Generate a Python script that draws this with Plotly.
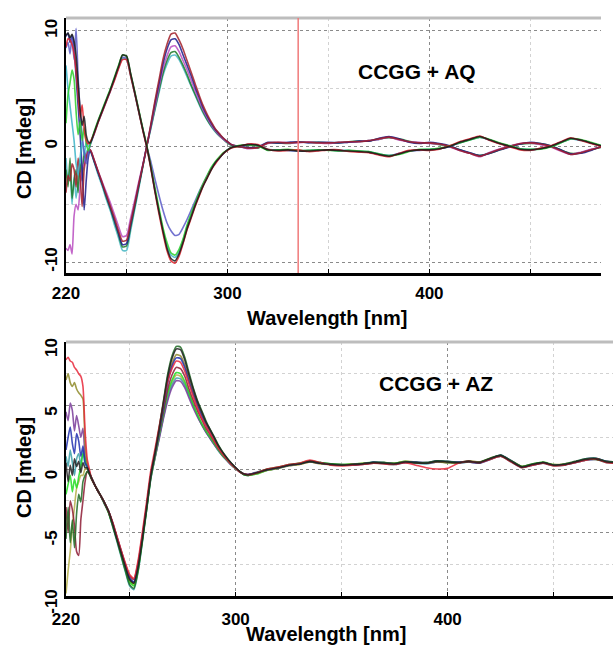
import plotly.graph_objects as go

# wavelength grid (nm): 1 nm in the noisy start, 2 nm over the bands, 5 nm in the flat tail
wl = [220, 221, 222, 223, 224, 225, 226, 227, 228, 229, 230, 231, 232,
      234, 236, 238, 240, 242, 244, 246, 248, 250, 252, 254, 256, 258, 260,
      262, 264, 266, 268, 270, 272, 274, 276, 278, 280, 282, 284, 286, 288,
      290, 292, 294, 296, 298, 300, 302, 304, 306,
      310, 315, 320, 325, 330, 335, 340, 345, 350, 355, 360, 365, 370, 375,
      380, 385, 390, 395, 400, 405, 410, 415, 420, 425, 430, 435, 440, 445,
      450, 455, 460, 465, 470, 475, 480, 485]

# ---- CCGG + AQ (top panel) ----
aq_black = [9.6, 9.8, 9.4, 9.7, 9.1, 7.8, 5.5, 3.2, 1.8, 2.6, 1.0, 0.4, 0.3,
            1.2, 2.2, 3.1, 4.0, 4.9, 5.9, 6.9, 7.9, 7.8, 6.3, 4.7, 3.1, 1.5, 0.0,
            -1.8, -3.8, -5.6, -7.3, -8.8, -9.7, -9.9, -9.3, -8.3, -7.1, -6.1, -5.1, -4.2, -3.4,
            -2.7, -2.0, -1.4, -1.0, -0.6, -0.3, -0.1, 0.0, 0.05,
            0.15, 0.1, -0.3, -0.35, -0.3, -0.4, -0.4, -0.35, -0.3, -0.35, -0.4, -0.45, -0.5, -0.7,
            -0.85, -0.65, -0.4, -0.3, -0.3, -0.2, 0.0, 0.35, 0.6, 0.85, 0.55, 0.25, 0.0, -0.25,
            -0.3, -0.2, 0.0, 0.35, 0.7, 0.55, 0.3, 0.05]
aq_red = [8.6, 9.3, 9.2, 8.8, 8.0, 6.5, 4.5, 2.5, 3.6, 1.5, 0.5, 0.2, 0.4,
          1.1, 2.1, 3.0, 3.9, 4.8, 5.7, 6.7, 7.5, 7.5, 6.1, 4.6, 3.0, 1.4, -0.1,
          -1.9, -3.9, -5.8, -7.5, -9.0, -9.9, -10.1, -9.5, -8.4, -7.2, -6.2, -5.2, -4.3, -3.4,
          -2.7, -2.0, -1.5, -1.0, -0.6, -0.35, -0.15, -0.05, 0.0,
          0.2, 0.15, -0.25, -0.4, -0.35, -0.3, -0.45, -0.4, -0.3, -0.3, -0.45, -0.5, -0.55, -0.75,
          -0.9, -0.6, -0.35, -0.3, -0.35, -0.25, 0.05, 0.4, 0.65, 0.9, 0.5, 0.2, -0.05, -0.3,
          -0.35, -0.15, 0.05, 0.4, 0.75, 0.5, 0.25, 0.0]
aq_green = [2.0, 4.5, 5.5, 6.6, 5.8, 3.0, 1.0, 2.2, 0.5, 1.6, 0.3, -0.4, 0.2,
            1.3, 2.3, 3.2, 4.1, 5.0, 6.0, 7.0, 7.9, 7.8, 6.3, 4.8, 3.2, 1.6, 0.1,
            -1.7, -3.5, -5.3, -7.0, -8.3, -9.2, -9.4, -8.9, -8.0, -6.8, -5.8, -4.9, -4.0, -3.2,
            -2.5, -1.8, -1.3, -0.9, -0.55, -0.3, -0.1, 0.0, 0.1,
            0.1, 0.05, -0.35, -0.3, -0.25, -0.35, -0.35, -0.3, -0.35, -0.4, -0.35, -0.4, -0.45, -0.65,
            -0.8, -0.7, -0.45, -0.25, -0.25, -0.15, 0.05, 0.3, 0.55, 0.8, 0.6, 0.3, 0.05, -0.2,
            -0.25, -0.25, -0.05, 0.3, 0.65, 0.6, 0.35, 0.1]
aq_slate = [8.5, 9.0, 8.0, 9.5, 7.5, 10.2, 6.0, 3.0, 1.0, -0.5, -1.5, -0.6, 0.1,
            1.1, 2.1, 3.0, 3.9, 4.8, 5.8, 6.8, 7.7, 7.6, 6.2, 4.7, 3.1, 1.5, 0.0,
            -1.3, -2.8, -4.2, -5.5, -6.6, -7.3, -7.7, -7.6, -7.0, -6.3, -5.5, -4.7, -3.9, -3.2,
            -2.5, -1.9, -1.4, -1.0, -0.6, -0.3, -0.1, 0.0, 0.05,
            0.15, 0.1, -0.3, -0.3, -0.35, -0.4, -0.35, -0.3, -0.3, -0.4, -0.4, -0.4, -0.5, -0.7,
            -0.8, -0.6, -0.4, -0.35, -0.3, -0.2, 0.0, 0.3, 0.6, 0.8, 0.55, 0.25, 0.0, -0.2,
            -0.3, -0.2, 0.0, 0.35, 0.65, 0.55, 0.3, 0.05]
aq_cyan = [7.0, 5.0, 3.5, 2.0, 0.5, -1.5, -2.5, -1.0, 0.5, -0.8, 0.4, 0.0, 0.2,
           1.2, 2.2, 3.1, 4.0, 4.9, 5.8, 6.8, 7.6, 7.5, 6.1, 4.6, 3.0, 1.5, 0.0,
           -1.8, -3.7, -5.5, -7.2, -8.6, -9.4, -9.6, -9.1, -8.1, -6.9, -5.9, -5.0, -4.1, -3.3,
           -2.6, -1.9, -1.4, -0.95, -0.6, -0.3, -0.1, 0.0, 0.05,
           0.1, 0.1, -0.25, -0.3, -0.35, -0.35, -0.4, -0.3, -0.3, -0.35, -0.35, -0.45, -0.45, -0.65,
           -0.8, -0.65, -0.4, -0.3, -0.25, -0.2, 0.0, 0.3, 0.55, 0.8, 0.55, 0.25, 0.0, -0.2,
           -0.25, -0.2, 0.0, 0.3, 0.65, 0.5, 0.3, 0.05]
aq_darkred = [-4.0, -2.5, -3.0, -1.5, -2.0, -3.5, -1.0, -2.5, -5.2, -2.0, -1.0, -0.4, -0.3,
              -1.2, -2.2, -3.2, -4.2, -5.2, -6.2, -7.3, -8.2, -8.1, -6.6, -5.0, -3.3, -1.7, 0.0,
              1.9, 3.9, 5.7, 7.5, 8.8, 9.7, 9.8, 9.2, 8.4, 7.4, 6.4, 5.4, 4.4, 3.5,
              2.75, 2.1, 1.5, 1.1, 0.7, 0.4, 0.15, 0.05, 0.0,
              -0.15, -0.1, 0.3, 0.35, 0.3, 0.35, 0.35, 0.3, 0.3, 0.35, 0.4, 0.4, 0.5, 0.65,
              0.8, 0.6, 0.4, 0.3, 0.3, 0.2, 0.0, -0.35, -0.6, -0.85, -0.55, -0.25, 0.0, 0.25,
              0.3, 0.2, 0.0, -0.35, -0.7, -0.55, -0.3, -0.05]
aq_navy = [9.5, 9.8, 9.0, 9.6, 8.5, 6.0, 3.5, 1.0, -2.0, -5.5, -3.0, -1.0, -0.4,
           -1.3, -2.3, -3.3, -4.3, -5.3, -6.4, -7.5, -8.5, -8.4, -6.8, -5.1, -3.4, -1.7, 0.0,
           1.8, 3.7, 5.4, 7.1, 8.4, 9.2, 9.3, 8.8, 7.9, 7.0, 6.1, 5.1, 4.2, 3.3,
           2.6, 2.0, 1.45, 1.05, 0.7, 0.4, 0.15, 0.05, 0.0,
           -0.1, -0.05, 0.35, 0.3, 0.35, 0.4, 0.3, 0.35, 0.35, 0.3, 0.35, 0.45, 0.45, 0.7,
           0.85, 0.65, 0.35, 0.25, 0.35, 0.25, 0.05, -0.3, -0.55, -0.8, -0.6, -0.3, -0.05, 0.2,
           0.35, 0.25, 0.05, -0.3, -0.65, -0.6, -0.35, 0.0]
aq_magenta = [-8.8, -9.0, -8.5, -9.3, -6.0, -5.0, -5.5, -3.5, -2.0, -1.5, -0.8, -0.4, -0.3,
              -1.2, -2.2, -3.1, -4.0, -4.9, -5.9, -6.9, -7.8, -7.7, -6.2, -4.7, -3.1, -1.6, 0.0,
              1.7, 3.4, 5.1, 6.7, 7.8, 8.6, 8.7, 8.2, 7.4, 6.6, 5.7, 4.8, 3.9, 3.1,
              2.45, 1.85, 1.35, 0.95, 0.6, 0.35, 0.15, 0.05, 0.0,
              -0.2, -0.1, 0.25, 0.35, 0.3, 0.3, 0.4, 0.3, 0.25, 0.35, 0.35, 0.4, 0.5, 0.6,
              0.8, 0.55, 0.4, 0.35, 0.25, 0.2, -0.05, -0.35, -0.6, -0.9, -0.5, -0.2, 0.05, 0.25,
              0.3, 0.15, -0.05, -0.4, -0.7, -0.5, -0.25, -0.05]
aq_darkgreen = [-2.0, -3.5, -1.0, -4.5, -3.0, -2.0, -4.0, -1.5, -3.0, -0.5, -1.2, -0.5, -0.3,
                -1.3, -2.3, -3.3, -4.4, -5.4, -6.5, -7.6, -8.7, -8.6, -7.0, -5.3, -3.5, -1.8, 0.0,
                1.6, 3.2, 4.8, 6.3, 7.4, 8.1, 8.2, 7.7, 7.0, 6.2, 5.3, 4.5, 3.7, 2.95,
                2.3, 1.75, 1.3, 0.9, 0.6, 0.3, 0.1, 0.0, -0.05,
                -0.1, -0.15, 0.3, 0.3, 0.25, 0.35, 0.35, 0.35, 0.3, 0.3, 0.4, 0.45, 0.45, 0.65,
                0.75, 0.65, 0.45, 0.3, 0.3, 0.15, 0.0, -0.3, -0.6, -0.8, -0.6, -0.3, 0.0, 0.2,
                0.25, 0.25, 0.05, -0.3, -0.6, -0.55, -0.3, -0.1]
aq_teal = [-1.0, -3.0, -2.0, -5.0, -2.5, -4.5, -3.0, -1.0, -2.2, -1.2, -0.5, -0.3, -0.4,
           -1.4, -2.5, -3.5, -4.6, -5.6, -6.8, -7.9, -9.0, -9.0, -7.3, -5.5, -3.7, -1.8, 0.0,
           1.5, 3.1, 4.6, 6.1, 7.1, 7.8, 7.9, 7.5, 6.8, 6.0, 5.2, 4.4, 3.6, 2.85,
           2.25, 1.7, 1.25, 0.9, 0.6, 0.3, 0.1, 0.0, -0.05,
           -0.15, -0.1, 0.3, 0.3, 0.3, 0.35, 0.35, 0.3, 0.3, 0.35, 0.35, 0.4, 0.5, 0.6,
           0.8, 0.6, 0.4, 0.3, 0.3, 0.2, 0.0, -0.3, -0.55, -0.8, -0.55, -0.25, 0.0, 0.2,
           0.3, 0.2, 0.0, -0.3, -0.65, -0.55, -0.3, -0.05]

# ---- CCGG + AZ (bottom panel) ----
az_red = [8.6, 8.8, 8.5, 8.4, 8.0, 7.8, 7.5, 7.3, 6.5, 3.0, 0.8, 0.0, -0.7,
          -1.4, -2.0, -2.6, -3.3, -4.2, -5.3, -6.4, -7.4, -8.3, -8.6, -7.2, -5.0, -2.6, -0.1,
          1.6, 3.4, 5.2, 6.9, 7.9, 8.5, 8.4, 7.7, 6.7, 5.7, 4.8, 4.0, 3.4, 2.8,
          2.2, 1.6, 1.15, 0.75, 0.35, 0.05, -0.25, -0.4, -0.45,
          -0.3, 0.0, 0.15, 0.35, 0.45, 0.7, 0.5, 0.3, 0.25, 0.3, 0.35, 0.45, 0.4, 0.35,
          0.5, 0.3, 0.1, 0.0, 0.05, 0.45, 0.6, 0.5, 0.75, 1.0, 0.55, 0.1, 0.3, 0.45,
          0.25, 0.3, 0.5, 0.7, 0.8, 0.5, 0.45, 0.45]
az_olive = [7.0, 7.5, 6.8, 6.5, 6.8, 6.3, 6.0, 5.8, 5.5, 2.0, 0.4, -0.2, -0.7,
            -1.4, -2.0, -2.6, -3.3, -4.3, -5.5, -6.6, -7.7, -8.7, -9.0, -7.7, -5.5, -3.0, -0.5,
            1.2, 3.0, 5.0, 7.0, 8.3, 9.0, 8.9, 8.2, 7.1, 6.0, 5.1, 4.3, 3.6, 3.0,
            2.35, 1.75, 1.25, 0.8, 0.4, 0.1, -0.2, -0.4, -0.45,
            -0.35, -0.1, 0.05, 0.25, 0.35, 0.55, 0.4, 0.35, 0.3, 0.4, 0.45, 0.5, 0.5, 0.45,
            0.6, 0.55, 0.5, 0.6, 0.5, 0.5, 0.65, 0.55, 0.85, 1.05, 0.65, 0.2, 0.35, 0.5,
            0.35, 0.4, 0.55, 0.75, 0.75, 0.55, 0.5, 0.5]
az_purple = [4.5, 3.8, 5.2, 4.6, 3.0, 4.2, 3.4, 2.5, 3.2, 1.0, 0.3, -0.2, -0.7,
             -1.4, -2.0, -2.6, -3.3, -4.3, -5.4, -6.5, -7.6, -8.6, -8.9, -7.6, -5.4, -3.1, -0.7,
             0.9, 2.4, 4.0, 5.4, 6.4, 6.95, 6.9, 6.4, 5.6, 4.8, 4.1, 3.5, 2.9, 2.4,
             1.9, 1.45, 1.0, 0.65, 0.3, 0.05, -0.2, -0.4, -0.4,
             -0.3, -0.05, 0.1, 0.3, 0.4, 0.55, 0.45, 0.4, 0.35, 0.3, 0.35, 0.45, 0.45, 0.4,
             0.5, 0.5, 0.45, 0.55, 0.55, 0.5, 0.55, 0.45, 0.75, 1.0, 0.6, 0.15, 0.3, 0.45,
             0.3, 0.35, 0.5, 0.7, 0.75, 0.6, 0.55, 0.5]
az_blue = [1.5, 2.5, 3.3, 2.0, 1.2, 2.8, 2.2, 1.0, 1.8, 0.5, 0.2, -0.3, -0.7,
           -1.4, -2.0, -2.6, -3.3, -4.3, -5.4, -6.5, -7.6, -8.6, -8.9, -7.6, -5.4, -3.0, -0.5,
           1.2, 3.0, 4.9, 6.8, 8.1, 8.75, 8.7, 8.0, 6.9, 5.9, 5.0, 4.2, 3.5, 2.9,
           2.3, 1.7, 1.2, 0.8, 0.4, 0.1, -0.2, -0.4, -0.45,
           -0.25, -0.05, 0.1, 0.3, 0.4, 0.6, 0.45, 0.35, 0.3, 0.35, 0.4, 0.55, 0.5, 0.4,
           0.55, 0.55, 0.5, 0.65, 0.6, 0.55, 0.6, 0.5, 0.8, 1.1, 0.65, 0.15, 0.35, 0.5,
           0.3, 0.35, 0.55, 0.8, 0.85, 0.6, 0.5, 0.55]
az_teal = [1.0, 0.2, 1.5, 0.5, -0.5, 0.8, 1.2, 0.3, 1.5, 0.4, 0.1, -0.3, -0.7,
           -1.4, -2.0, -2.7, -3.4, -4.5, -5.7, -6.9, -8.1, -9.2, -9.5, -8.1, -5.8, -3.3, -0.8,
           0.9, 2.5, 4.1, 5.6, 6.6, 7.15, 7.1, 6.6, 5.8, 5.0, 4.2, 3.5, 2.9, 2.4,
           1.9, 1.4, 1.0, 0.65, 0.3, 0.0, -0.25, -0.45, -0.5,
           -0.35, -0.1, 0.05, 0.25, 0.4, 0.6, 0.5, 0.35, 0.3, 0.3, 0.4, 0.5, 0.4, 0.35,
           0.5, 0.45, 0.4, 0.55, 0.5, 0.45, 0.55, 0.45, 0.75, 1.0, 0.55, 0.1, 0.3, 0.45,
           0.25, 0.3, 0.5, 0.7, 0.75, 0.5, 0.45, 0.45]
az_lime = [-2.0, -1.2, -0.5, -1.8, -0.8, -1.5, -0.6, 0.2, 1.2, 0.8, 0.1, -0.3, -0.7,
           -1.4, -2.0, -2.6, -3.4, -4.4, -5.5, -6.7, -7.9, -8.9, -9.2, -7.9, -5.6, -3.2, -0.7,
           1.0, 2.7, 4.4, 6.0, 7.0, 7.6, 7.5, 6.9, 6.0, 5.1, 4.3, 3.6, 3.0, 2.5,
           2.0, 1.5, 1.05, 0.7, 0.35, 0.05, -0.2, -0.45, -0.5,
           -0.4, -0.1, 0.1, 0.3, 0.45, 0.65, 0.5, 0.4, 0.35, 0.4, 0.45, 0.55, 0.5, 0.45,
           0.6, 0.5, 0.45, 0.6, 0.55, 0.5, 0.6, 0.5, 0.8, 1.05, 0.6, 0.2, 0.4, 0.55,
           0.35, 0.35, 0.55, 0.75, 0.8, 0.55, 0.5, 0.5]
az_darkred = [-3.0, -5.0, -2.5, -3.2, -4.5, -6.5, -6.8, -4.0, -2.5, -1.0, -0.2, -0.4, -0.7,
              -1.4, -2.0, -2.6, -3.3, -4.2, -5.3, -6.4, -7.5, -8.4, -8.7, -7.4, -5.2, -2.9, -0.4,
              1.2, 2.9, 4.6, 6.3, 7.4, 8.0, 7.9, 7.3, 6.3, 5.4, 4.6, 3.9, 3.2, 2.7,
              2.15, 1.6, 1.15, 0.75, 0.4, 0.1, -0.2, -0.4, -0.45,
              -0.3, -0.05, 0.1, 0.3, 0.4, 0.6, 0.45, 0.35, 0.3, 0.35, 0.4, 0.5, 0.45, 0.4,
              0.55, 0.5, 0.45, 0.6, 0.55, 0.5, 0.6, 0.5, 0.8, 1.05, 0.6, 0.15, 0.35, 0.5,
              0.3, 0.35, 0.55, 0.75, 0.8, 0.55, 0.5, 0.5]
az_darkgreen = [-5.5, -3.0, -5.8, -4.0, -6.2, -3.5, -2.0, -2.6, -1.0, -0.5, -0.2, -0.4, -0.8,
                -1.4, -2.0, -2.7, -3.4, -4.5, -5.6, -6.8, -8.0, -9.1, -9.4, -8.0, -5.7, -3.2, -0.6,
                1.3, 3.3, 5.4, 7.5, 8.9, 9.65, 9.6, 8.8, 7.6, 6.4, 5.4, 4.6, 3.8, 3.1,
                2.5, 1.85, 1.3, 0.85, 0.45, 0.1, -0.2, -0.45, -0.5,
                -0.3, 0.0, 0.15, 0.35, 0.45, 0.6, 0.5, 0.4, 0.35, 0.35, 0.4, 0.5, 0.5, 0.45,
                0.55, 0.5, 0.5, 0.65, 0.6, 0.5, 0.6, 0.55, 0.85, 1.1, 0.65, 0.2, 0.4, 0.5,
                0.3, 0.4, 0.6, 0.8, 0.85, 0.6, 0.55, 0.55]
az_khaki = [-9.8, -8.0, -6.5, -4.5, -3.0, -1.5, -1.0, -0.5, -0.5, 0.0, 0.0, -0.3, -0.7,
            -1.4, -2.0, -2.6, -3.4, -4.4, -5.5, -6.7, -7.8, -8.8, -9.1, -7.8, -5.6, -3.2, -0.7,
            0.9, 2.6, 4.2, 5.8, 6.8, 7.4, 7.3, 6.7, 5.9, 5.0, 4.2, 3.5, 2.95, 2.45,
            1.95, 1.45, 1.0, 0.7, 0.35, 0.05, -0.2, -0.4, -0.45,
            -0.25, 0.0, 0.1, 0.3, 0.35, 0.55, 0.45, 0.35, 0.3, 0.35, 0.4, 0.45, 0.45, 0.4,
            0.5, 0.5, 0.45, 0.55, 0.5, 0.5, 0.55, 0.5, 0.75, 1.0, 0.6, 0.15, 0.35, 0.5,
            0.3, 0.35, 0.5, 0.7, 0.8, 0.55, 0.5, 0.5]
az_black = [0.5, -1.0, 0.3, -0.5, 0.8, 0.2, 0.6, -0.3, 0.5, 0.1, 0.1, -0.3, -0.7,
            -1.4, -2.0, -2.6, -3.3, -4.3, -5.5, -6.6, -7.7, -8.7, -9.0, -7.7, -5.5, -3.0, -0.5,
            1.3, 3.2, 5.3, 7.3, 8.7, 9.45, 9.4, 8.6, 7.4, 6.3, 5.3, 4.5, 3.7, 3.1,
            2.45, 1.8, 1.3, 0.85, 0.45, 0.1, -0.2, -0.4, -0.45,
            -0.3, -0.05, 0.1, 0.3, 0.4, 0.6, 0.45, 0.35, 0.3, 0.35, 0.4, 0.5, 0.45, 0.4,
            0.55, 0.5, 0.45, 0.6, 0.55, 0.5, 0.6, 0.5, 0.8, 1.05, 0.6, 0.15, 0.35, 0.5,
            0.3, 0.35, 0.55, 0.75, 0.8, 0.55, 0.5, 0.5]

marker_wl = 335  # red cursor line in the AQ panel

aq_traces = [(aq_teal, "#48b8c4"), (aq_darkgreen, "#1e7a28"), (aq_magenta, "#b94cc0"),
             (aq_navy, "#1c1c8c"), (aq_darkred, "#a3202a"),
             (aq_cyan, "#3cb4c8"), (aq_slate, "#5b5bc8"), (aq_green, "#2ccf2c"),
             (aq_red, "#e0202a"), (aq_black, "#1a1a1a")]
az_traces = [(az_khaki, "#b6b04a"), (az_teal, "#3aa0a8"), (az_purple, "#7a3c9a"),
             (az_lime, "#22dd22"), (az_darkred, "#8e1c34"), (az_olive, "#8f8a2a"),
             (az_blue, "#2030b0"), (az_darkgreen, "#1f6b24"), (az_red, "#e8283a"),
             (az_black, "#202020")]

for arr, _ in aq_traces + az_traces:
    assert len(arr) == len(wl), len(arr)

fig = go.Figure()
for arr, col in aq_traces:
    fig.add_trace(go.Scatter(x=wl, y=arr, mode="lines", xaxis="x", yaxis="y",
                             line=dict(color=col, width=1.6, shape="spline", smoothing=0.6),
                             opacity=0.85, hoverinfo="skip"))
for arr, col in az_traces:
    fig.add_trace(go.Scatter(x=wl, y=arr, mode="lines", xaxis="x2", yaxis="y2",
                             line=dict(color=col, width=1.6, shape="spline", smoothing=0.6),
                             opacity=0.85, hoverinfo="skip"))

FONT = "Liberation Sans, Arial, sans-serif"
W, H = 613, 647

def xax(domain, rng, anchor, standoff):
    return dict(domain=domain, range=rng, anchor=anchor, automargin=False,
                tickmode="array", tickvals=[220, 300, 400], ticktext=["220", "300", "400"],
                tickfont=dict(family=FONT, size=17, color="black", weight="bold"),
                ticks="inside", ticklen=4, tickcolor="black", ticklabelstandoff=standoff,
                showline=True, linecolor="black", linewidth=2.5,
                showgrid=True, gridcolor="#8a8a8a", griddash="dot", gridwidth=1,
                zeroline=False,
                minor=dict(tickmode="array", tickvals=[250, 350, 450], ticks="inside",
                           ticklen=4, tickcolor="black", showgrid=True,
                           gridcolor="#d2d2d2", griddash="dot", gridwidth=1))

def yax(domain, rng, anchor, major, minor, shift):
    return dict(domain=domain, range=rng, anchor=anchor, automargin=False,
                tickmode="array", tickvals=major, ticktext=[str(v) for v in major],
                tickangle=-90, ticklabelshift=shift,
                tickfont=dict(family=FONT, size=17, color="black", weight="bold"),
                ticks="", showline=True, linecolor="black", linewidth=2,
                showgrid=True, gridcolor="#8a8a8a", griddash="dot", gridwidth=1,
                zeroline=False,
                minor=dict(tickmode="array", tickvals=minor, showgrid=True,
                           gridcolor="#d2d2d2", griddash="dot", gridwidth=1))

fig.update_layout(
    width=W, height=H, margin=dict(l=0, r=0, t=0, b=0, autoexpand=False),
    paper_bgcolor="white", plot_bgcolor="white", showlegend=False,
    xaxis=xax([66 / W, 601 / W], [220, 485], "y", 3),
    yaxis=yax([1 - 273 / H, 1 - 18 / H], [-10.95, 11.1], "x", [10, 0, -10], [5, -5], 0),
    xaxis2=xax([66 / W, 1.0], [220, 478], "y2", 6),
    yaxis2=yax([1 - 596 / H, 1 - 342 / H], [-10, 10], "x2",
               [10, 5, 0, -5, -10], [7.5, 2.5, -2.5, -7.5], 8),
)

# grey top frame of each panel and the red cursor line
for xr, yr in (("x domain", "y domain"), ("x2 domain", "y2 domain")):
    fig.add_shape(type="line", xref=xr, yref=yr, x0=0, x1=1, y0=1, y1=1,
                  line=dict(color="#bdbdbd", width=3))
fig.add_shape(type="line", xref="x", yref="y domain", x0=marker_wl, x1=marker_wl,
              y0=0, y1=1, line=dict(color="#f07a7a", width=1.5))

def label(text, x, y, size, angle=0):
    fig.add_annotation(text=text, xref="paper", yref="paper", x=x / W, y=1 - y / H,
                       xanchor="center", yanchor="middle", showarrow=False,
                       textangle=angle,
                       font=dict(family=FONT, size=size, color="black", weight="bold"))

label("CCGG + AQ", 417, 71, 21)
label("CCGG + AZ", 436, 383, 21)
label("Wavelength [nm]", 327, 318, 20)
label("Wavelength [nm]", 326, 634, 20)
label("CD [mdeg]", 24, 148, 20, -90)
label("CD [mdeg]", 24, 467, 20, -90)

# page body has a default 8px margin; drop it so the figure fills the window
fig.write_html("out.html", config={"displayModeBar": False},
               post_script="document.body.style.margin='0';")
